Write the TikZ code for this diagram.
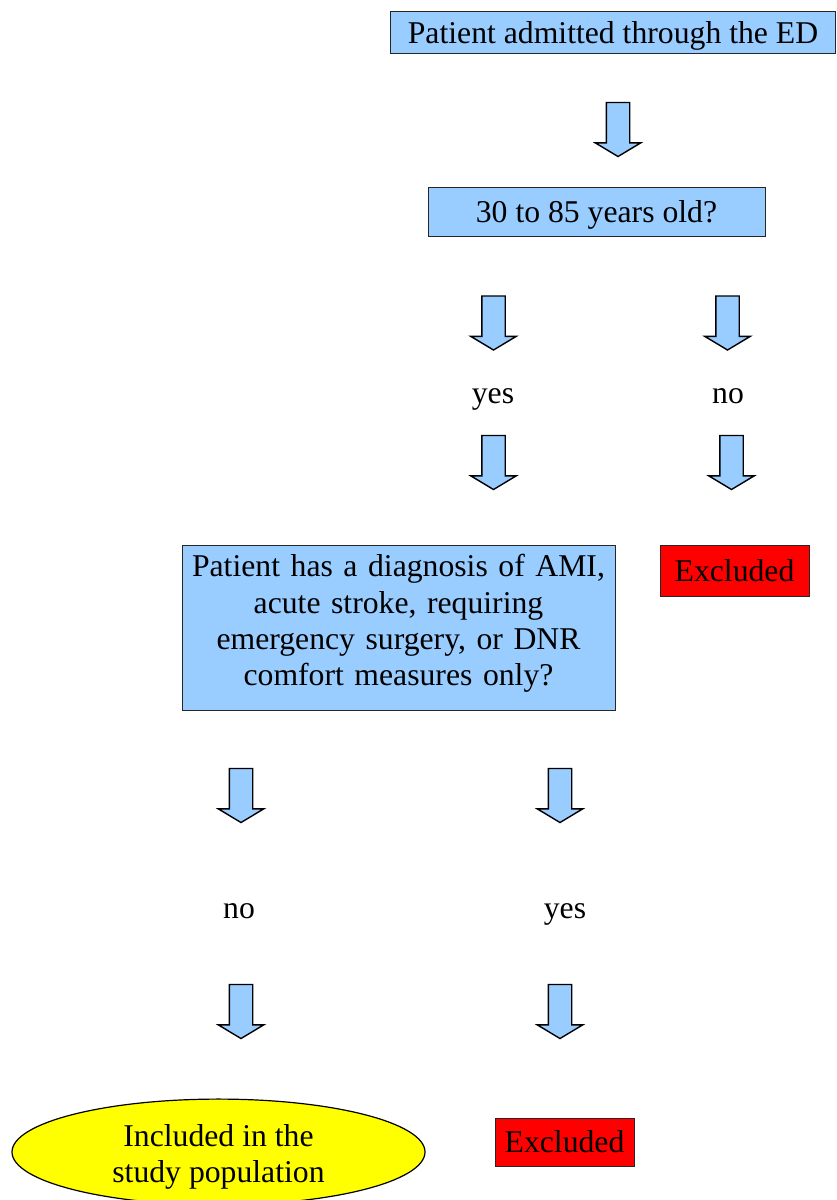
\documentclass[tikz,border=0pt]{standalone}
\usepackage{fontspec}
\setmainfont{Liberation Serif}
\usetikzlibrary{shapes.geometric,shapes.arrows,positioning}
\definecolor{askblue}{HTML}{99CCFF}
\definecolor{outred}{HTML}{FF0000}
\definecolor{inyellow}{HTML}{FFFF00}

\begin{document}
\begin{tikzpicture}[
  x=1pt, y=1pt,
  every node/.style={font=\fontsize{31.7}{36.4}\selectfont},
  stepbox/.style={draw=black!85, line width=1pt, fill=askblue, inner sep=0pt, align=center},
  outbox/.style={draw=black!85, line width=1pt, fill=outred, inner sep=0pt},
  fatarrow/.style={single arrow, draw=black, line width=1.4pt, fill=askblue,
    shape border rotate=270, inner sep=11pt, minimum height=54pt,
    single arrow head extend=11pt, single arrow tip angle=118}
]
  \useasboundingbox (0,0) rectangle (837,-1200);

  % questions
  \node[stepbox, minimum width=445, minimum height=42, text depth=0pt] (admit) at (613,-32)
        {Patient admitted through the ED};
  \node[stepbox, minimum width=337, minimum height=49, text depth=0pt] (age) at (596.5,-211.5)
        {30 to 85 years old?};
  \node[stepbox, text width=433, minimum height=165, text depth=124pt] (diag) at (398.5,-627.5)
        {Patient has a diagnosis of AMI,\\acute stroke, requiring\\emergency surgery, or DNR\\comfort measures only?};

  % outcomes
  \node[outbox, minimum width=149, minimum height=51] (excla) at (734.5,-570.5) {Excluded};
  \node[outbox, minimum width=139, minimum height=48] (exclb) at (564.5,-1142) {Excluded};
  \node[ellipse, draw=black, line width=1.2pt, fill=inyellow, minimum width=413,
        minimum height=98, inner sep=0pt, align=center, text height=68pt] (incl) at (218.5,-1152)
        {Included in the\\study population};

  % block arrows
  \foreach \nm/\x/\y in {da/618/126, db/493.5/319.5, dc/727.5/319.5, dd/493.5/459,
                         de/731.5/459, df/241/792, dg/560/792, dh/241/1008, di/560/1008}
    \node[fatarrow] (\nm) at (\x,-\y) {};

  % answers
  \node[anchor=base] (yesa) at (493,-403) {yes};
  \node[anchor=base] (noa) at (728,-403) {no};
  \node[anchor=base] (nob) at (239,-918) {no};
  \node[anchor=base] (yesb) at (565,-918) {yes};
\end{tikzpicture}
\end{document}
